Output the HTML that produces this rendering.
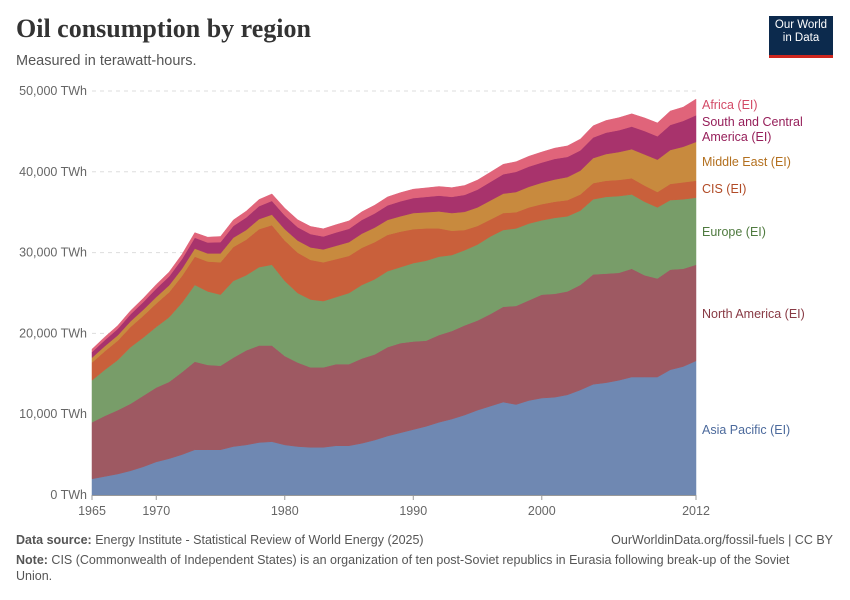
<!DOCTYPE html>
<html><head><meta charset="utf-8"><style>
body{margin:0;background:#fff;font-family:"Liberation Sans",sans-serif;}
#wrap{position:relative;width:850px;height:600px;overflow:hidden;}
</style></head><body>
<div id="wrap">
<div style="position:absolute;left:16px;top:14px;font-family:'Liberation Serif',serif;font-weight:bold;font-size:26px;color:#333;">Oil consumption by region</div>
<div style="position:absolute;left:16px;top:53px;font-size:14.5px;color:#555;">Measured in terawatt-hours.</div>
<div style="position:absolute;left:769px;top:16px;width:64px;height:36px;background:#0c2a4d;border-bottom:3px solid #ce261e;color:#fff;font-size:11.5px;line-height:13px;text-align:center;padding-top:3px;box-sizing:content-box;">Our World<br>in Data</div>
<svg id="chart" width="850" height="600" style="position:absolute;left:0;top:0"></svg>
<div style="position:absolute;left:16px;top:533px;font-size:12.5px;color:#555;"><b>Data source:</b> Energy Institute - Statistical Review of World Energy (2025)</div>
<div style="position:absolute;right:17px;top:533px;font-size:12.5px;color:#555;">OurWorldinData.org/fossil-fuels | CC BY</div>
<div style="position:absolute;left:16px;top:553px;width:795px;font-size:12.5px;line-height:15.5px;color:#555;"><b>Note:</b> CIS (Commonwealth of Independent States) is an organization of ten post-Soviet republics in Eurasia following break-up of the Soviet Union.</div>
</div>
<script>
const years=[];for(let y=1965;y<=2012;y++)years.push(y);
const asiaPacific=[2000,2300,2600,3000,3500,4100,4500,5000,5600,5600,5600,6000,6200,6500,6600,6200,6000,5900,5900,6100,6100,6400,6800,7300,7700,8100,8500,9000,9400,9900,10500,11000,11500,11200,11700,12000,12100,12400,13000,13700,13900,14200,14600,14600,14600,15500,15900,16600];
const northAmerica=[7000,7500,7900,8300,8800,9200,9500,10200,10900,10500,10400,11000,11700,12000,11900,11000,10400,9900,9900,10100,10100,10500,10600,11000,11100,10900,10600,10800,10900,11100,11100,11400,11800,12200,12400,12800,12800,12800,13000,13600,13500,13300,13400,12600,12200,12400,12100,11900];
const europe=[5200,5700,6200,7000,7200,7500,8000,8600,9500,9100,8800,9500,9300,9700,10000,9300,8600,8400,8200,8300,8800,9100,9300,9400,9400,9700,9900,9700,9400,9300,9400,9600,9500,9600,9500,9200,9400,9300,9200,9300,9500,9500,9200,9100,8800,8600,8600,8300];
const cis=[2200,2300,2400,2500,2700,2900,3100,3300,3500,3700,4000,4200,4400,4700,4900,5000,5000,4900,4800,4700,4600,4600,4600,4500,4400,4200,4000,3500,3000,2500,2300,2100,2100,2000,2000,2000,2000,2000,2000,2000,2000,2000,2000,2000,1900,2000,2100,2100];
const middleEast=[600,630,660,700,750,800,850,900,1000,1000,1100,1150,1200,1250,1300,1400,1500,1550,1600,1650,1700,1750,1800,1850,1900,2000,2000,2100,2200,2250,2300,2350,2400,2500,2550,2650,2750,2850,2950,3100,3300,3450,3600,3850,4000,4200,4400,4800];
const southCentralAmerica=[700,750,800,880,950,1050,1100,1200,1350,1350,1400,1450,1550,1600,1700,1700,1650,1650,1600,1650,1650,1700,1750,1800,1850,1850,1900,1950,2000,2100,2200,2300,2400,2500,2500,2500,2550,2500,2500,2550,2650,2700,2800,2900,2900,3100,3200,3300];
const africa=[350,380,400,430,460,500,540,580,620,660,700,740,780,820,860,900,920,940,950,960,980,1000,1020,1040,1070,1100,1110,1130,1140,1160,1180,1200,1230,1250,1280,1300,1330,1360,1400,1450,1500,1550,1580,1620,1650,1720,1700,2000];
const seriesNames=["Asia Pacific (EI)","North America (EI)","Europe (EI)","CIS (EI)","Middle East (EI)","South and Central America (EI)","Africa (EI)"];
const seriesData=[asiaPacific,northAmerica,europe,cis,middleEast,southCentralAmerica,africa];
const yTicks=[0,10000,20000,30000,40000,50000];
const yTickLabels=["0 TWh","10,000 TWh","20,000 TWh","30,000 TWh","40,000 TWh","50,000 TWh"];
const xTicks=[1965,1970,1980,1990,2000,2012];

const fills=["#6f88b2","#9e5962","#789d69","#c9603b","#c88a3e","#a8336c","#e0647a"];
const labelColors=["#4c6a9c","#883a44","#4f7a3f","#b14b26","#b3701f","#961f5a","#d34a66"];
const slugs=["asia-pacific","north-america","europe","cis","middle-east","south-central-america","africa"];
const X0=92,X1=696,Y0=495,Y1=91;
const xs=y=>X0+(y-1965)/(2012-1965)*(X1-X0);
const ys=v=>Y0-v/50000*(Y0-Y1);
const svg=document.getElementById('chart');const NS="http://www.w3.org/2000/svg";
function mk(t,a){const e=document.createElementNS(NS,t);for(const k in a)e.setAttribute(k,a[k]);svg.appendChild(e);return e;}
yTicks.forEach((t,i)=>{
 if(t>0){const g=mk('line',{x1:92,x2:696,y1:ys(t),y2:ys(t),stroke:'#ddd','stroke-dasharray':'4,4'});
 
 }
 const l=mk('text',{x:87,y:ys(t)+4,'text-anchor':'end','font-size':12.5,fill:'#666','font-family':'Liberation Sans, sans-serif'});
 l.textContent=yTickLabels[i];
 
 
});
const cum=years.map(()=>0);
seriesData.forEach((s,k)=>{
 const lower=cum.slice();s.forEach((v,i)=>cum[i]+=v);
 let d="";years.forEach((y,i)=>d+=(i?"L":"M")+xs(y)+","+ys(cum[i]));
 for(let i=years.length-1;i>=0;i--)d+="L"+xs(years[i])+","+ys(lower[i]);
 const p=mk('path',{d:d+"Z",fill:fills[k],stroke:fills[k],'stroke-width':0.5});
 
 
});
const labelY=[434,318,236,193,166,126,109];
seriesNames.forEach((n,k)=>{
 const lines=k===5?["South and Central","America (EI)"]:[n];
 lines.forEach((ln,j)=>{const t=mk('text',{x:702,y:labelY[k]+j*15,'font-size':12.5,fill:labelColors[k],'font-family':'Liberation Sans, sans-serif'});
 t.textContent=ln;
 
 });
});
const ax=mk('line',{x1:92,x2:696,y1:495.5,y2:495.5,stroke:'#999'});


xTicks.forEach(y=>{
 const tk=mk('line',{x1:xs(y),x2:xs(y),y1:495,y2:500,stroke:'#999'});
 
 
 const t=mk('text',{x:xs(y),y:515,'text-anchor':'middle','font-size':12.5,fill:'#666','font-family':'Liberation Sans, sans-serif'});
 t.textContent=y;
 
 
});
</script>
</body></html>
